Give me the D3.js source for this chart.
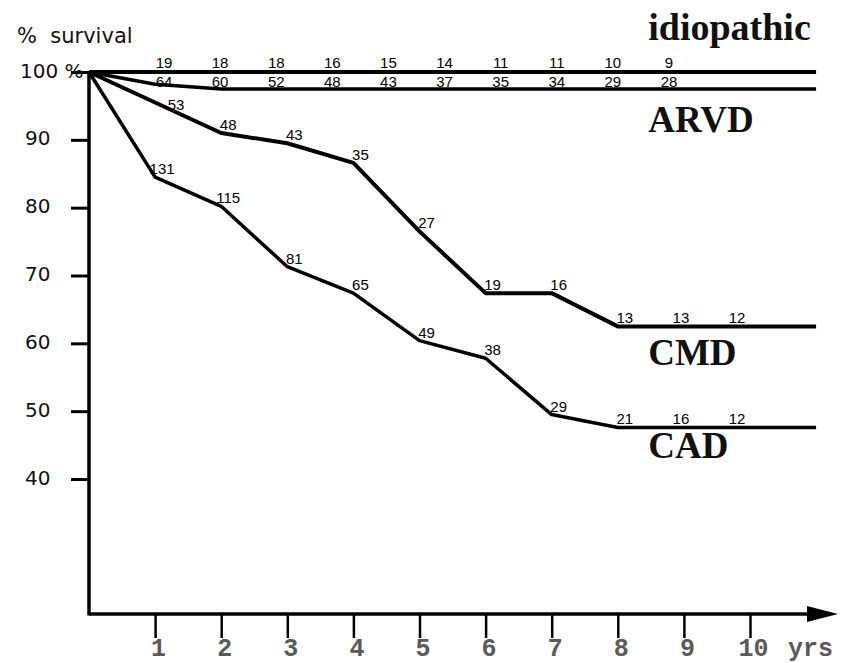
<!DOCTYPE html>
<html>
<head>
<meta charset="utf-8">
<script src="https://cdn.jsdelivr.net/npm/d3@7"></script>
<style>
  body { margin: 0; background: #fff; }
  svg { display: block; }
</style>
</head>
<body>
<div id="chart"></div>
<script>
// survival (%) at each year, the last point is where the curves end
const years = [0, 1, 2, 3, 4, 5, 6, 7, 8, 9, 10, 11];
const idiopathic = [100, 100, 100, 100, 100, 100, 100, 100, 100, 100, 100, 100];
const arvd = [100, 98.2, 97.5, 97.5, 97.5, 97.5, 97.5, 97.5, 97.5, 97.5, 97.5, 97.5];
const cmd = [100, 95.5, 91, 89.5, 86.6, 76.5, 67.4, 67.4, 62.5, 62.5, 62.5, 62.5];
const cad = [100, 84.5, 80.2, 71.3, 67.4, 60.4, 57.8, 49.5, 47.6, 47.6, 47.6, 47.6];

// patients at risk, years 1..10
const riskYears = [1, 2, 3, 4, 5, 6, 7, 8, 9, 10];
const idioN = [19, 18, 18, 16, 15, 14, 11, 11, 10, 9];
const arvdN = [64, 60, 52, 48, 43, 37, 35, 34, 29, 28];
const cmdN = [53, 48, 43, 35, 27, 19, 16, 13, 13, 12];
const cadN = [131, 115, 81, 65, 49, 38, 29, 21, 16, 12];

const yTicks = [40, 50, 60, 70, 80, 90, 100];
const xTicks = [1, 2, 3, 4, 5, 6, 7, 8, 9, 10];

const width = 841, height = 663;

const x = d3.scaleLinear().domain([0, 10]).range([89, 750]);
const y = d3.scaleLinear().domain([40, 100]).range([479, 72]);
const xAxisY = 614;

const svg = d3.select("#chart").append("svg")
    .attr("width", width)
    .attr("height", height);

// Y axis
const yAxis = svg.append("g")
    .attr("transform", `translate(${x(0)},0)`)
    .call(d3.axisLeft(y).tickValues(yTicks).tickSize(18).tickSizeOuter(0)
        .tickFormat(d => d === 100 ? "100 %" : d));
yAxis.select(".domain").remove();
yAxis.selectAll(".tick line").attr("stroke", "#000").attr("stroke-width", 3);
yAxis.selectAll(".tick text")
    .attr("x", d => d === 100 ? -69 : -64)
    .attr("dy", 0)
    .attr("y", 5)
    .attr("text-anchor", "start")
    .style("font-family", "'DejaVu Sans', sans-serif")
    .style("font-size", "20px")
    .attr("fill", "#111");

svg.append("line")
    .attr("x1", x(0)).attr("x2", x(0))
    .attr("y1", y(100) - 1).attr("y2", xAxisY + 1.5)
    .attr("stroke", "#000")
    .attr("stroke-width", 3.5);

svg.append("text")
    .attr("x", 17)
    .attr("y", 43)
    .style("font-family", "'DejaVu Sans', sans-serif")
    .style("font-size", "21px")
    .attr("fill", "#111")
    .attr("xml:space", "preserve")
    .text("%  survival");

// X axis
const xAxis = svg.append("g")
    .attr("transform", `translate(0,${xAxisY})`)
    .call(d3.axisBottom(x).tickValues(xTicks).tickSize(24).tickSizeOuter(0));
xAxis.select(".domain").remove();
xAxis.selectAll(".tick line").attr("stroke", "#000").attr("stroke-width", 2.5);
xAxis.selectAll(".tick text")
    .attr("y", 42)
    .attr("dy", 0)
    .attr("dx", 3)
    .style("font-family", "'Liberation Mono', monospace")
    .style("font-size", "25px")
    .style("font-weight", "bold")
    .attr("fill", "#5a5a5a");

svg.append("line")
    .attr("x1", x(0)).attr("x2", 810)
    .attr("y1", xAxisY).attr("y2", xAxisY)
    .attr("stroke", "#000")
    .attr("stroke-width", 3.5);

svg.append("path")
    .attr("d", `M807,${xAxisY - 8}L838,${xAxisY}L807,${xAxisY + 8}Z`)
    .attr("fill", "#000");

svg.append("text")
    .attr("x", 788)
    .attr("y", xAxisY + 42)
    .style("font-family", "'Liberation Mono', monospace")
    .style("font-size", "25px")
    .style("font-weight", "bold")
    .attr("fill", "#5a5a5a")
    .text("yrs");

// survival curves
const line = d3.line()
    .x((d, i) => x(years[i]))
    .y(d => y(d));

const curves = [
    { name: "idiopathic", values: idiopathic, width: 4 },
    { name: "ARVD", values: arvd, width: 3.5 },
    { name: "CMD", values: cmd, width: 4 },
    { name: "CAD", values: cad, width: 3.5 }
];

svg.selectAll("path.curve")
    .data(curves)
    .enter()
    .append("path")
    .attr("class", "curve")
    .attr("fill", "none")
    .attr("stroke", "#000")
    .attr("stroke-width", d => d.width)
    .attr("stroke-linejoin", "round")
    .attr("d", d => line(d.values));

// numbers at risk
const numStyle = sel => sel
    .attr("text-anchor", "middle")
    .style("font-family", "'Liberation Sans', Arial, sans-serif")
    .style("font-size", "15px")
    .attr("fill", "#000");

// the two top rows are printed evenly spaced along the flat lines
const topX = d3.scalePoint().domain(riskYears).range([164, 669]);

svg.append("g").selectAll("text")
    .data(idioN)
    .enter()
    .append("text")
    .attr("x", (d, i) => topX(riskYears[i]))
    .attr("y", y(100) - 4)
    .call(numStyle)
    .text(d => d);

svg.append("g").selectAll("text")
    .data(arvdN)
    .enter()
    .append("text")
    .attr("x", (d, i) => topX(riskYears[i]))
    .attr("y", y(arvd[arvd.length - 1]) - 2)
    .call(numStyle)
    .text(d => d);

// CMD / CAD numbers sit just above each bend; where the curve runs straight
// through a year the number is pushed further along the line.
// On the flat tails (from year 8) they use the same tighter spacing as above.
[cmdN, cadN].forEach((counts, k) => {
    const values = k === 0 ? cmd : cad;
    const along = d3.scaleLinear().domain(years).range(values);
    const pos = counts.map((n, i) => {
        const yr = riskYears[i];
        const before = values[yr - 1] - values[yr];
        const after = values[yr] - values[yr + 1];
        const straight = Math.abs(before - after) < 0.3 && after > 0;
        if (yr > 8) {
            return { n, px: x(8) + 7 + (yr - 8) * topX.step(), py: y(values[yr]) - 3 };
        }
        if (straight) {
            const px = x(yr) + 21;
            return { n, px, py: y(along(x.invert(px))) - 2 };
        }
        return { n, px: x(yr) + 7, py: y(values[yr]) - 3 };
    });
    svg.append("g").selectAll("text")
        .data(pos)
        .enter()
        .append("text")
        .attr("x", d => d.px)
        .attr("y", d => d.py)
        .call(numStyle)
        .text(d => d.n);
});

// series names
const names = [
    { text: "idiopathic", value: idiopathic[11], dy: -32, size: 38 },
    { text: "ARVD", value: arvd[11], dy: 43, size: 37 },
    { text: "CMD", value: cmd[11], dy: 39, size: 37 },
    { text: "CAD", value: cad[11], dy: 31, size: 37 }
];

svg.selectAll("text.name")
    .data(names)
    .enter()
    .append("text")
    .attr("class", "name")
    .attr("x", x(8.46))
    .attr("y", d => y(d.value) + d.dy)
    .style("font-family", "'Liberation Serif', 'Times New Roman', serif")
    .style("font-weight", "bold")
    .style("font-size", d => d.size + "px")
    .attr("fill", "#111")
    .text(d => d.text);
</script>
</body>
</html>
